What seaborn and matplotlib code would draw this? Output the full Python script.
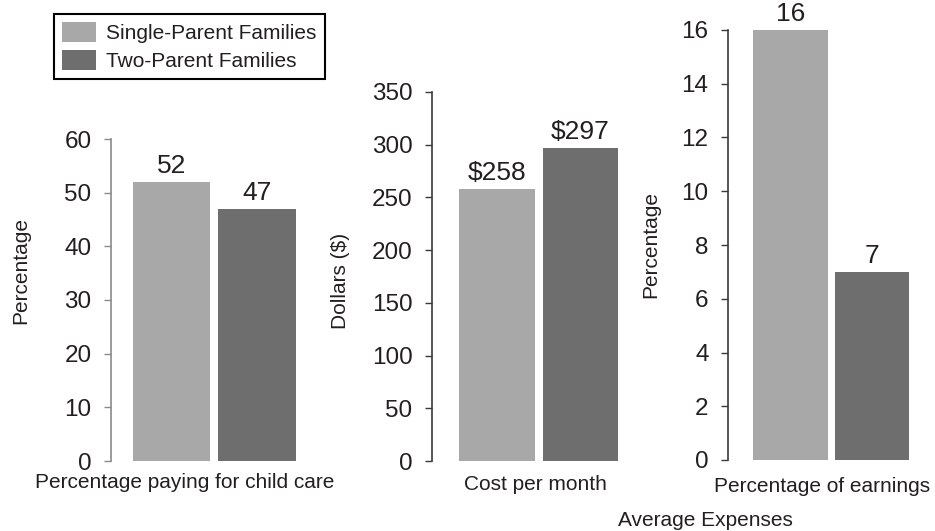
import matplotlib
matplotlib.use("Agg")
import matplotlib.pyplot as plt
import seaborn as sns
import pandas as pd
from matplotlib.patches import Patch

# ---- data ----
metrics = ["Percentage paying for child care", "Cost per month", "Percentage of earnings"]
families = ["Single-Parent Families", "Two-Parent Families"]
single_parent = [52, 258, 16]
two_parent = [47, 297, 7]
y_labels = ["Percentage", "Dollars ($)", "Percentage"]
y_max = [60, 350, 16]
y_step = [10, 50, 2]
value_prefix = ["", "$", ""]
super_xlabel = "Average Expenses"

colors = ["#a8a8a8", "#6e6e6e"]

sns.set_theme(style="white")
plt.rcParams['font.family'] = ['Liberation Sans', 'DejaVu Sans']
TXT = "#231f20"

W, H = 935, 531
fig = plt.figure(figsize=(W / 100, H / 100), dpi=100)

# per-panel geometry in pixels: axis-left, pair center, centre spacing, y0 px, ytop px
geom = [
    (111, 214.25, 85.5, 461, 139),
    (432, 538.75, 83.5, 461, 92),
    (728, 831.25, 81.5, 460, 30),
]
spine_cols = ["#8a8a8a", "#3a3a3a", "#3a3a3a"]
xlabel_pos = [(185, 483), (535, 485), (822, 487)]
ylabel_pos = [(21, 270), (340, 281), (651, 245)]

for i in range(3):
    left, cen, sp, y0, yt = geom[i]
    ppu = sp / 0.4
    ax_w = 210
    ax = fig.add_axes([left / W, (H - y0) / H, ax_w / W, (y0 - yt) / H])
    ax.patch.set_alpha(0)
    df = pd.DataFrame({
        "metric": [metrics[i]] * 2,
        "family": families,
        "value": [single_parent[i], two_parent[i]],
    })
    sns.barplot(data=df, x="metric", y="value", hue="family", hue_order=families,
                palette=colors, width=0.8, gap=0.09, saturation=1,
                ax=ax, legend=False, linewidth=0)
    xl = -(cen - left) / ppu
    ax.set_xlim(xl, xl + ax_w / ppu)
    ax.set_ylim(0, y_max[i])
    ax.set_yticks(range(0, y_max[i] + 1, y_step[i]))
    ax.set_xticks([])
    ax.set_xlabel("")
    ax.set_ylabel("")
    for s in ["top", "right", "bottom"]:
        ax.spines[s].set_visible(False)
    ax.spines["left"].set_color(spine_cols[i])
    ax.spines["left"].set_linewidth(1.2)
    ax.tick_params(axis="y", direction="out", length=5, width=1,
                   color=spine_cols[i], labelsize=17.5, labelcolor=TXT, pad=9, left=True)
    for c in ax.containers:
        ax.bar_label(c, labels=[f"{value_prefix[i]}{v:g}" for v in c.datavalues],
                     padding=3, fontsize=19, color=TXT)
    fig.text(xlabel_pos[i][0] / W, 1 - xlabel_pos[i][1] / H, metrics[i],
             ha="center", va="center", fontsize=15, color=TXT)
    fig.text(ylabel_pos[i][0] / W, 1 - ylabel_pos[i][1] / H, y_labels[i],
             ha="center", va="center", rotation=90, fontsize=15, color=TXT)

fig.text(705 / W, 1 - 521 / H, super_xlabel, ha="center", va="center",
         fontsize=15, color=TXT)

handles = [Patch(facecolor=colors[0], edgecolor="none"),
           Patch(facecolor=colors[1], edgecolor="none")]
leg = fig.legend(handles, families, loc="upper left",
                 bbox_to_anchor=(54 / W, 1 - 14 / H), fontsize=15,
                 frameon=True, fancybox=False, framealpha=1,
                 edgecolor="black", handlelength=1.6, handleheight=1.1,
                 handletextpad=0.5, borderpad=0.4, labelspacing=0.3,
                 borderaxespad=0)
leg.get_frame().set_linewidth(1.5)
for t in leg.get_texts():
    t.set_color(TXT)

fig.savefig("out.png", dpi=100)
